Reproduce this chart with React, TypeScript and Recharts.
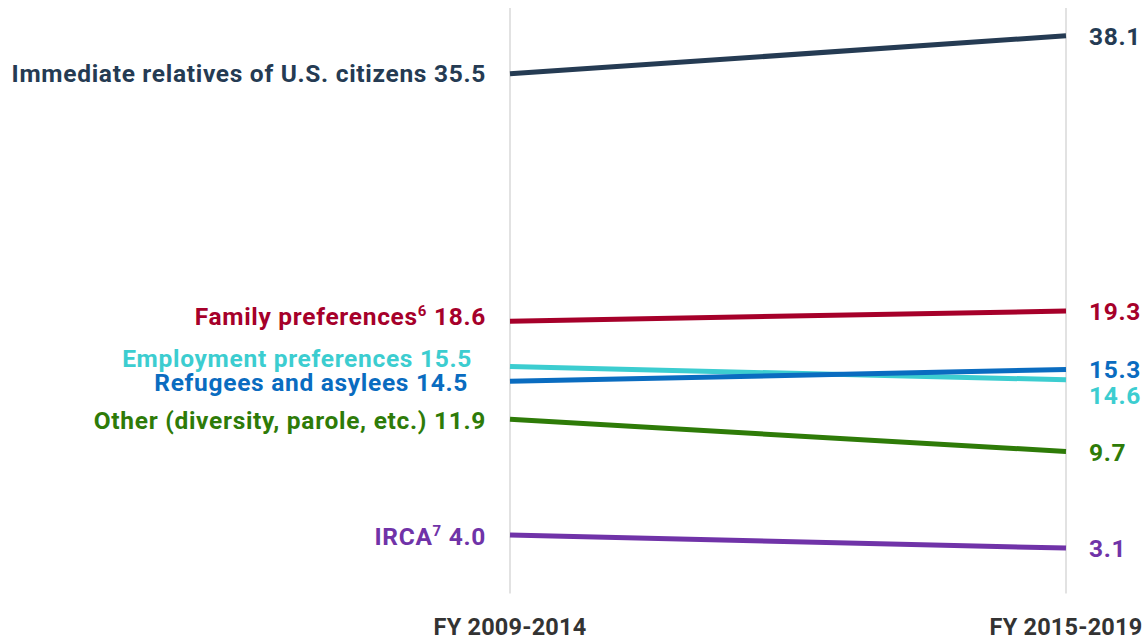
import React from "react";
import { LineChart, Line, XAxis, YAxis, ReferenceLine } from "recharts";

const periods = ["FY 2009-2014", "FY 2015-2019"];
const seriesNames = [
  "Immediate relatives of U.S. citizens",
  "Family preferences",
  "Employment preferences",
  "Refugees and asylees",
  "Other (diversity, parole, etc.)",
  "IRCA",
];
const seriesKeys = ["imm", "fam", "emp", "ref", "oth", "irca"];
const startValues = [35.5, 18.6, 15.5, 14.5, 11.9, 4.0];
const endValues = [38.1, 19.3, 14.6, 15.3, 9.7, 3.1];
const footnotes = ["", "6", "", "", "", "7"];

const colors = ["#253b53", "#a6002a", "#3ccdd0", "#0a6cc0", "#2e7b08", "#7033a8"];
// label nudges [leftDx, leftDy, rightDy]
const nudges = [
  [0, 0, 1],
  [0, -5, 0],
  [-14, -8, 16],
  [-18, 1, 0],
  [0, 1, 1],
  [0, 1, 0],
];

const data = periods.map((p, i) => {
  const row: any = { period: p };
  seriesKeys.forEach((k, j) => {
    row[k] = i === 0 ? startValues[j] : endValues[j];
  });
  return row;
});

const FONT = "Roboto, 'Noto Sans', sans-serif";
const FS = 24.5;
const LS = 0.7;

const makeLabel = (j: number) => (props: any) => {
  const { x, y, index, value } = props;
  const color = colors[j];
  const [ldx, ldy, rdy] = nudges[j];
  if (index === 0) {
    const cy = y + ldy + FS * 0.35;
    return (
      <text
        x={x - 24 + ldx}
        y={cy}
        textAnchor="end"
        fill={color}
        fontFamily={FONT}
        fontWeight={700}
        fontSize={FS}
        letterSpacing={LS}
      >
        <tspan>{seriesNames[j]}</tspan>
        {footnotes[j] ? (
          <>
            <tspan fontSize={15} dy={-9}>{footnotes[j]}</tspan>
            <tspan dy={9}>{" " + Number(value).toFixed(1)}</tspan>
          </>
        ) : (
          <tspan>{" " + Number(value).toFixed(1)}</tspan>
        )}
      </text>
    );
  }
  return (
    <text
      x={x + 23}
      y={y + rdy + FS * 0.35}
      textAnchor="start"
      fill={color}
      fontFamily={FONT}
      fontWeight={700}
      fontSize={FS}
      letterSpacing={LS}
    >
      {Number(value).toFixed(1)}
    </text>
  );
};

const Tick = (props: any) => {
  const { x, payload } = props;
  return (
    <text
      x={x}
      y={635}
      textAnchor="middle"
      fill="#333333"
      fontFamily={FONT}
      fontWeight={700}
      fontSize={23.5}
      letterSpacing={0.2}
    >
      {payload.value}
    </text>
  );
};

export default function App() {
  return (
    <div style={{ position: "absolute", left: 0, top: 0, background: "#fff" }}>
      <LineChart
        width={1146}
        height={640}
        data={data}
        margin={{ top: 8, right: 0, bottom: 0, left: 0 }}
      >
        <XAxis
          dataKey="period"
          padding={{ left: 510, right: 80 }}
          axisLine={false}
          tickLine={false}
          height={46.5}
          tick={<Tick />}
          interval={0}
        />
        <YAxis hide domain={[0, 40]} />
        {periods.map((p) => (
          <ReferenceLine key={p} x={p} stroke="#d9d9d9" strokeWidth={1.5} />
        ))}
        {seriesKeys.map((k, j) => (
          <Line
            key={k}
            dataKey={k}
            stroke={colors[j]}
            strokeWidth={5}
            dot={false}
            isAnimationActive={false}
            label={makeLabel(j)}
          />
        ))}
      </LineChart>
    </div>
  );
}
